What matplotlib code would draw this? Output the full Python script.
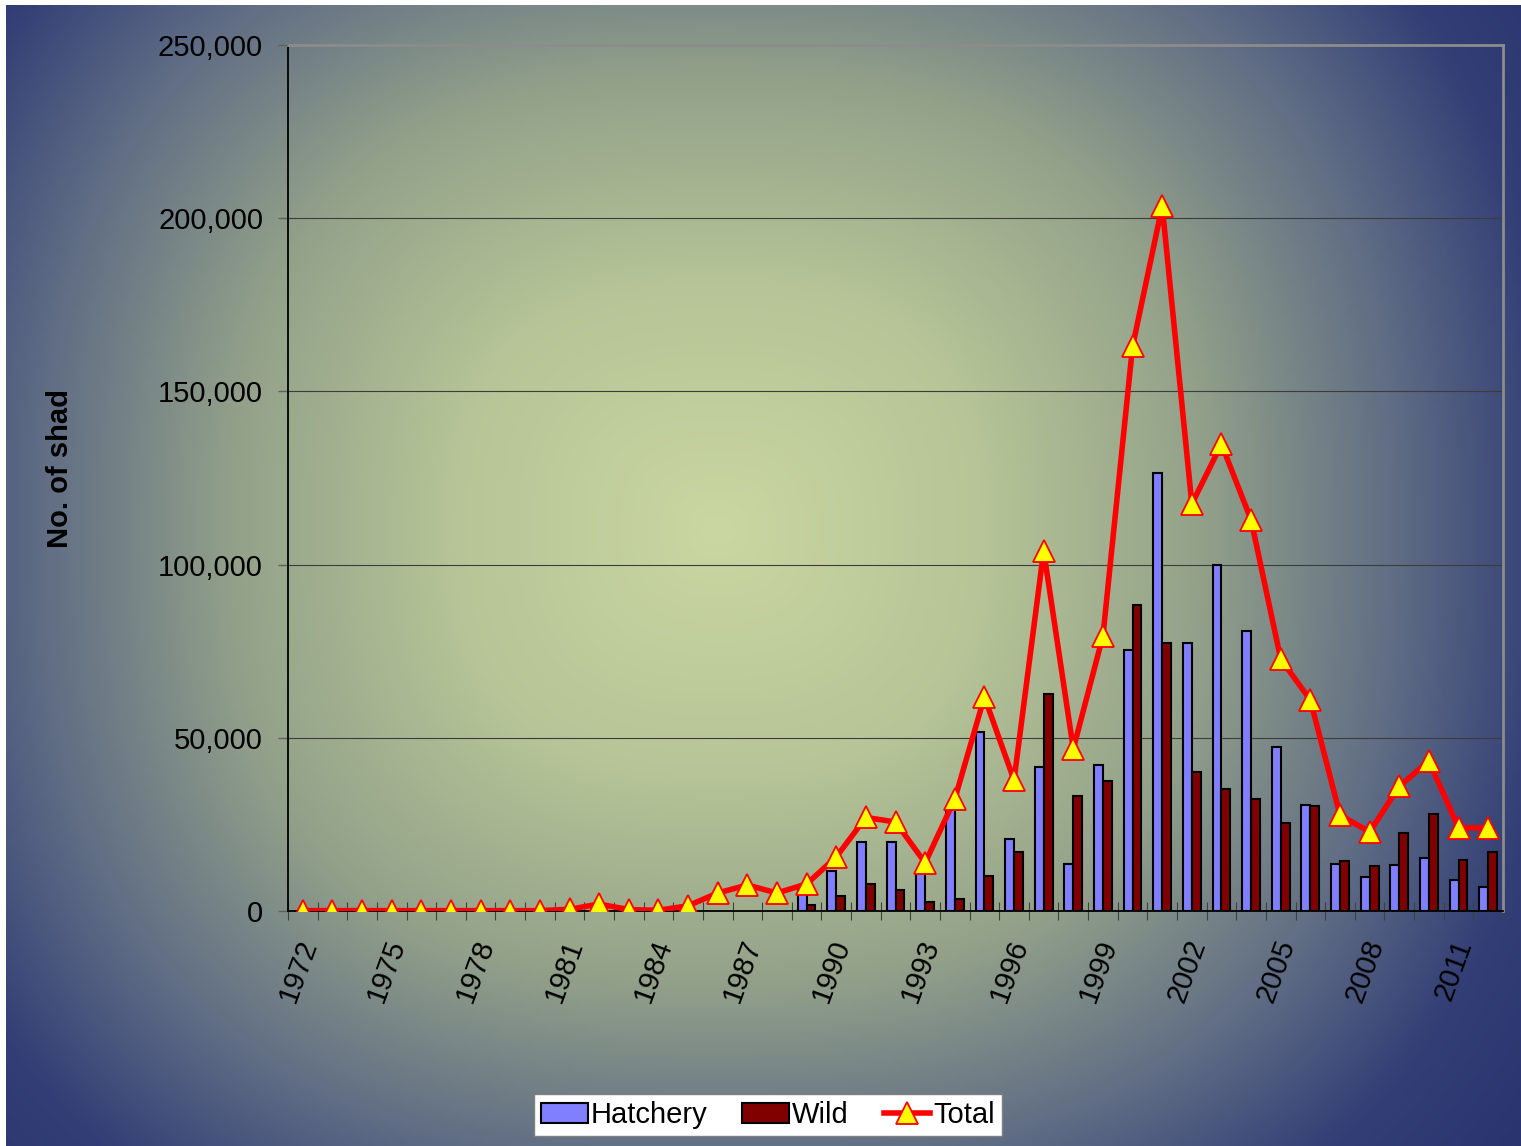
import numpy as np
import matplotlib.pyplot as plt
import matplotlib.transforms as mtransforms
from matplotlib.colors import LinearSegmentedColormap
from matplotlib.ticker import FuncFormatter, MultipleLocator

plt.rcParams['font.family'] = ['Liberation Sans', 'DejaVu Sans']

years = list(range(1972, 2013))
nan = np.nan
# hatchery / wild split only known from 1989 on
hatchery = [nan] * 17 + [6000, 11600, 20000, 19800, 11400, 29400, 51800, 20800, 41700, 13600,
                         42100, 75300, 126400, 77400, 99900, 80800, 47300, 30700, 13600, 9900,
                         13400, 15300, 8900, 6900]
wild = [nan] * 17 + [1700, 4300, 7700, 6000, 2500, 3400, 10100, 16900, 62600, 33200,
                     37500, 88300, 77400, 40100, 35100, 32200, 25500, 30200, 14400, 13000,
                     22600, 28000, 14800, 16900]
total = [100] * 9 + [500, 2000, 400, 200, 1500, 5200, 7500, 5200, 7800, 15600, 27000, 25700,
                     13900, 32300, 61800, 37800, 104000, 46800, 79400, 163000, 203500, 117500,
                     134800, 112900, 72700, 60900, 27700, 22800, 36000, 43300, 24000, 24000]

W, H = 1521, 1146
fig = plt.figure(figsize=(W / 100, H / 100), dpi=100)
fig.patch.set_facecolor('white')

# slide-style background: light green centre fading to navy corners
bg = fig.add_axes([6 / W, 0, 1 - 6 / W, 1 - 5 / H])
bg.set_axis_off()
u, v = np.meshgrid(np.linspace(0, 1, 400), np.linspace(0, 1, 300))
dmax = 1.35
du = np.abs(u - 0.47) / 0.58
dv = np.abs(v - 0.46) / 0.72
d = (du ** 2.6 + dv ** 2.6) ** (1 / 2.6)
d = np.clip(d / dmax, 0, 1)
stops = [(0.0, '#cad7a2'), (0.3, '#b6c497'), (0.55, '#93a18a'),
         (0.78, '#5e6b84'), (0.95, '#323e75'), (1.35, '#1b2566')]
cmap = LinearSegmentedColormap.from_list('bg', [(s / dmax, c) for s, c in stops])
bg.imshow(cmap(d), aspect='auto', extent=[0, 1, 0, 1], interpolation='bicubic')

ax = fig.add_axes([288 / W, 1 - 911 / H, 1215 / W, 866 / H])
ax.set_facecolor('none')

x = np.arange(len(years))
bw = 0.3
b1 = ax.bar(x - bw / 2, hatchery, width=bw, color='#8080ff', edgecolor='black', linewidth=1.5,
            label='Hatchery', zorder=3)
b2 = ax.bar(x + bw / 2, wild, width=bw, color='#800000', edgecolor='black', linewidth=1.5,
            label='Wild', zorder=3)
ln, = ax.plot(x, total, color='#ff0000', linewidth=4, marker='^', markersize=16,
              markerfacecolor='#ffff00', markeredgecolor='#ff0000', markeredgewidth=1.3,
              label='Total', zorder=4)

ax.set_xlim(-0.5, len(years) - 0.5)
ax.set_ylim(0, 250000)
ax.yaxis.set_major_locator(MultipleLocator(50000))
ax.yaxis.set_major_formatter(FuncFormatter(lambda val, pos: f'{int(val):,}'))
ax.grid(axis='y', color='#3c3c3c', linewidth=0.8, zorder=1)
ax.set_axisbelow(True)

ax.set_xticks(x[::3])
ax.set_xticklabels([str(y) for y in years[::3]], rotation=70, ha='center', va='top')
ax.set_xticks(np.arange(-0.5, len(years)), minor=True)
ax.tick_params(axis='x', which='major', length=0, pad=18, labelsize=21)
ax.tick_params(axis='x', which='minor', direction='inout', length=13, width=0.8, color='#404040')
ax.tick_params(axis='y', which='major', direction='out', length=7, width=1, color='#606060',
               labelsize=21, pad=11)
shift = mtransforms.ScaledTranslation(-5 / 100, 0, fig.dpi_scale_trans)
for lab in ax.get_xticklabels():
    lab.set_transform(lab.get_transform() + shift)

for side in ['left', 'bottom']:
    ax.spines[side].set_color('black')
    ax.spines[side].set_linewidth(1.3)
for side in ['top', 'right']:
    ax.spines[side].set_color('#8c8c8c')
    ax.spines[side].set_linewidth(2)

fig.text(60 / W, 1 - 468 / H, 'No. of shad', rotation=90, ha='center', va='center',
         fontsize=21, fontweight='bold')

leg = fig.legend([b1, b2, ln], ['Hatchery', 'Wild', 'Total'], loc='center',
                 bbox_to_anchor=(768 / W, 1 - 1115 / H), ncol=3, fontsize=21,
                 frameon=True, fancybox=False, edgecolor='#808080', facecolor='white',
                 framealpha=1, handlelength=1.6, handletextpad=0.1, columnspacing=1.2,
                 borderpad=0.25, borderaxespad=0)

fig.savefig('out.png', dpi=100)
